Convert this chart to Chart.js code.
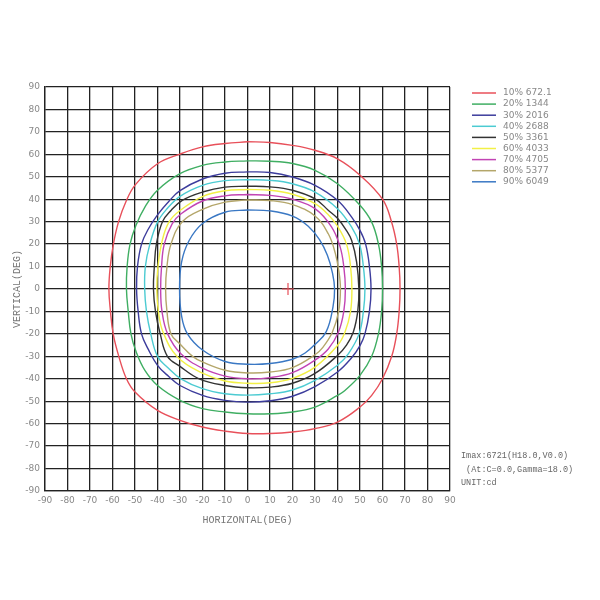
<!DOCTYPE html>
<html>
<head>
<meta charset="utf-8">
<script src="https://cdn.jsdelivr.net/npm/chart.js@4"></script>
<style>
  html, body { margin: 0; padding: 0; background: #fff; }
  #wrap { width: 600px; height: 600px; }
</style>
</head>
<body>
<div id="wrap"><canvas id="chart" width="600" height="600"></canvas></div>
<script>
// isolux levels (percent of Imax) and their values in cd
const levels = ['10%', '20%', '30%', '40%', '50%', '60%', '70%', '80%', '90%'];
const levelValues = ['672.1', '1344', '2016', '2688', '3361', '4033', '4705', '5377', '6049'];
const colors = ['#e8505a', '#3fae62', '#3c3c9c', '#4ccbd2', '#333333', '#f2f046', '#c244b4', '#b4a66a', '#3a78c4'];
const axisTicks = [-90, -80, -70, -60, -50, -40, -30, -20, -10, 0, 10, 20, 30, 40, 50, 60, 70, 80, 90];

// contour points [horizontal deg, vertical deg]
const c10 = [[0,65.6],[10,65.3],[20,64],[30,61.8],[40,58],[50,50.7],[60,40],[64,30],[66.3,20],[67.4,10],[67.8,0],
  [67.4,-10],[66.3,-20],[64.1,-30],[60,-40],[55.2,-47.4],[50,-52.6],[40,-59.3],[30,-62.2],[20,-63.7],[10,-64.4],[0,-64.4],
  [-10,-63.3],[-20,-61.5],[-30,-58.5],[-40,-54.1],[-50,-45.9],[-53.8,-40],[-57.2,-30],[-59.7,-20],[-60.9,-10],[-61.6,0],
  [-61,10],[-59.6,20],[-57.3,30],[-54,39],[-49.8,46.5],[-40,55.8],[-30,60.1],[-20,63.3],[-10,64.8],[0,65.6]];
const c20 = [[0,57.1],[10,56.9],[20,55.9],[30,52.9],[40,46.9],[50,37.3],[55.2,29.8],[58.2,20],[59.6,10],[60,0],
  [59.6,-10],[58.2,-20],[55.2,-30],[50,-38.5],[43.3,-45.2],[40,-47.4],[30,-52.6],[20,-54.8],[10,-55.6],[0,-55.6],
  [-10,-54.8],[-20,-53.3],[-30,-49.6],[-40,-43],[-45.6,-36.3],[-49.5,-28],[-51.8,-20],[-53,-10],[-53.8,0],
  [-53.5,10],[-52.2,20],[-49.6,28.3],[-45.6,36.5],[-40,44],[-30,51.4],[-20,55.1],[-10,56.6],[0,57.1]];
const c30 = [[0,52.2],[10,51.9],[20,49.9],[30,46.2],[40,39.5],[46.3,32],[50,26.1],[52.5,20],[54.2,10],[54.9,0],
  [54.2,-10],[52.2,-20],[50,-25.2],[46,-31],[40,-37],[30,-43.5],[20,-47.8],[10,-49.8],[0,-50.4],
  [-10,-49.6],[-20,-47.4],[-30,-43],[-35,-39],[-40,-34],[-44.2,-26.7],[-47.1,-20],[-48.6,-10],[-49.3,0],
  [-48.9,10],[-47.1,20],[-44.2,26.5],[-40,33],[-35,39],[-30,43.8],[-20,49],[-10,51.6],[0,52.2]];
const c40 = [[0,48.7],[10,48.4],[20,46.9],[30,43.2],[40,35.8],[46.3,27.6],[49.8,20],[51.5,10],[52.2,0],
  [51.5,-10],[49.6,-20],[44.8,-28.9],[40,-34],[30,-40.7],[20,-45],[10,-46.7],[0,-47.3],
  [-10,-46.7],[-20,-44.4],[-29.6,-40],[-35.5,-35],[-40,-30],[-43,-20],[-44.9,-10],[-45.7,0],
  [-45.4,10],[-43.4,20],[-40,29.8],[-36,35.5],[-30,41.3],[-20,46.2],[-10,48.3],[0,48.7]];
const c50 = [[0,45.8],[10,45.5],[20,44],[30,40.2],[36,35],[40,31.5],[44,26],[46.3,21.6],[48.5,12],[49.5,0],
  [49,-10],[47,-19.3],[44,-25],[40,-29.6],[30,-37.6],[20,-42],[10,-43.7],[0,-44],
  [-10,-43],[-21.5,-40],[-30,-34.5],[-35.6,-30],[-38.8,-20],[-40.9,-10],[-41.8,0],
  [-41.4,10],[-40.5,20],[-37.8,30],[-34,35],[-29,39.5],[-20,43.2],[-10,45.4],[0,45.8]];
const c60 = [[0,44.3],[10,44],[20,42.2],[30,38],[36,33],[40,28],[44,20],[45.8,10],[46.4,0],
  [45.8,-10],[43.3,-19.3],[40,-25.2],[30,-34.8],[20,-39.8],[10,-41.8],[0,-42],
  [-10,-41],[-20,-37.5],[-31,-30.4],[-37.5,-19.3],[-39.6,-10],[-40.3,0],
  [-39.8,10],[-37.8,22],[-34.8,30],[-30,35],[-20,41.2],[-10,43.8],[0,44.3]];
const c70 = [[0,42.1],[10,41.7],[20,40],[30,35.8],[37.4,27.6],[41.1,19],[42.8,10],[43.5,0],
  [42.8,-10],[40.4,-19.3],[35.9,-26.7],[30,-31.7],[20,-37.3],[10,-39.5],[0,-40],
  [-10,-38.8],[-20,-35.3],[-29.5,-29],[-35.5,-20],[-38,-10],[-38.6,0],
  [-38.2,10],[-37,20],[-33.5,29],[-29.5,33.5],[-20,39.2],[-10,41.5],[0,42.1]];
const c80 = [[0,39.7],[10,39.4],[20,37.6],[30,32.5],[35.9,24.6],[39,16],[40.6,8],[41.3,0],
  [40.5,-10],[37.7,-19.3],[33.5,-26],[30,-29.3],[20,-35],[10,-37],[0,-37.4],
  [-10,-36.2],[-20,-32.5],[-24.4,-30],[-30,-24.5],[-34,-20],[-35.8,-10],[-36.4,0],
  [-35.8,10],[-34,20],[-29,30],[-20,35.5],[-10,38.7],[0,39.7]];
const c90 = [[0,35.2],[10,34.8],[20,32.5],[27,28],[32,22],[35.5,15],[37.8,7],[38.7,0],
  [38,-8],[35,-19],[30,-24.7],[25.6,-28.5],[20,-31.3],[10,-33.2],[0,-33.5],
  [-10,-32.3],[-20,-27.2],[-26.7,-20],[-29.3,-12],[-30.2,0],
  [-29.3,12],[-26,21.5],[-20,29.2],[-10,34.2],[0,35.2]];
const contours = [c10, c20, c30, c40, c50, c60, c70, c80, c90];

// position of Imax
const imaxPoint = [18, 0];
const infoLines = ['Imax:6721(H18.0,V0.0)', ' (At:C=0.0,Gamma=18.0)', 'UNIT:cd'];

const datasets = contours.map((c, i) => ({
  label: levels[i] + ' ' + levelValues[i],
  data: c.map(p => ({ x: p[0], y: p[1] })),
  showLine: true,
  borderColor: colors[i],
  backgroundColor: colors[i],
  borderWidth: 1.4,
  pointRadius: 0,
  tension: 0.4
}));

datasets.push({
  label: 'Imax',
  data: [{ x: imaxPoint[0], y: imaxPoint[1] }],
  pointStyle: 'cross',
  pointRadius: 6,
  borderColor: '#e8505a',
  borderWidth: 1.2,
  showLine: false
});

// legend + info text on the right side
const sidePanel = {
  id: 'sidePanel',
  afterDraw(chart) {
    const ctx = chart.ctx;
    ctx.save();
    ctx.textBaseline = 'middle';
    ctx.font = '9px "DejaVu Sans"';
    levels.forEach((lv, i) => {
      const y = 93 + i * 11.1;
      ctx.strokeStyle = colors[i];
      ctx.lineWidth = 1.5;
      ctx.beginPath();
      ctx.moveTo(472, y);
      ctx.lineTo(496, y);
      ctx.stroke();
      ctx.fillStyle = '#888';
      ctx.fillText(lv + ' ' + levelValues[i], 503, y);
    });
    ctx.font = '8.5px "Liberation Mono"';
    ctx.fillStyle = '#666';
    infoLines.forEach((t, i) => {
      ctx.fillText(t, 461, 456 + i * 13.5);
    });
    ctx.restore();
  }
};

const tickFont = { family: 'DejaVu Sans', size: 9 };
const titleFont = { family: 'Liberation Mono', size: 10 };

new Chart(document.getElementById('chart').getContext('2d'), {
  type: 'scatter',
  data: { datasets },
  options: {
    responsive: false,
    animation: false,
    layout: { padding: { top: 87, right: 150, bottom: 59, left: 0 } },
    plugins: { legend: { display: false }, tooltip: { enabled: false } },
    scales: {
      x: {
        type: 'linear', min: -90, max: 90,
        afterBuildTicks: s => { s.ticks = axisTicks.map(v => ({ value: v })); },
        afterFit: s => { s.height = 50; },
        ticks: { color: '#888', font: tickFont, padding: 4, maxRotation: 0, autoSkip: false },
        grid: { color: '#222', lineWidth: 1.3, drawTicks: false },
        border: { color: '#222', width: 1.3 },
        title: { display: true, text: 'HORIZONTAL(DEG)', color: '#777', font: titleFont, padding: { bottom: 15 } }
      },
      y: {
        type: 'linear', min: -90, max: 90,
        afterBuildTicks: s => { s.ticks = axisTicks.map(v => ({ value: v })); },
        afterFit: s => { s.width = 45; },
        ticks: { color: '#888', font: tickFont, padding: 5, autoSkip: false },
        grid: { color: '#222', lineWidth: 1.3, drawTicks: false },
        border: { color: '#222', width: 1.3 },
        title: { display: true, text: 'VERTICAL(DEG)', color: '#777', font: titleFont, padding: { top: 11 } }
      }
    }
  },
  plugins: [sidePanel]
});
</script>
</body>
</html>
